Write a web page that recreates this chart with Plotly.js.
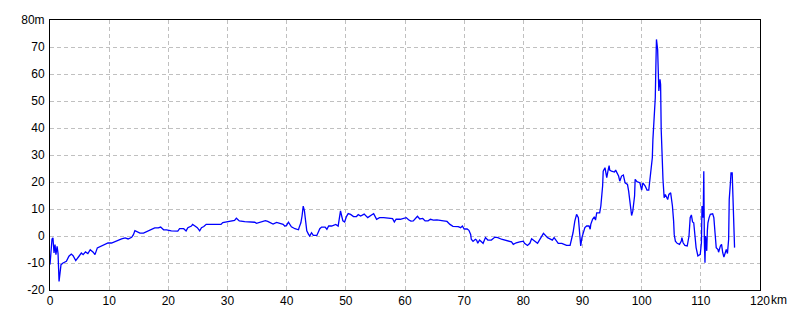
<!DOCTYPE html>
<html>
<head>
<meta charset="utf-8">
<script src="https://cdn.plot.ly/plotly-3.0.1.min.js"></script>
<style>html,body{margin:0;padding:0;background:#fff;}#chart{width:800px;height:320px;}</style>
</head>
<body>
<div id="chart"></div>
<script>
// Distance along route (km)
var distanceKm = [0,0.17,0.34,0.5,0.68,0.85,1.0,1.2,1.36,1.53,1.7,1.86,2.2,2.77,3.2,3.6,3.9,4.35,4.9,5.3,5.6,6.0,6.4,6.8,7.3,7.6,8.0,8.7,9.3,9.8,10.4,11.0,11.5,12.1,12.7,13.2,13.8,14.1,14.35,14.75,15.2,15.8,16.2,16.6,17.2,17.7,18.3,18.7,19.2,19.7,20.5,21.6,21.9,22.6,23.0,23.3,23.9,24.1,24.5,24.9,25.3,25.6,26.0,26.4,27.3,28.9,29.2,30.1,30.6,31.2,31.5,32.0,32.9,33.7,34.6,34.9,35.4,36.0,36.4,36.8,37.7,38.3,38.8,39.4,39.7,40.0,40.3,40.8,41.4,42.0,42.1,42.4,42.6,42.8,43.0,43.2,43.4,43.7,43.9,44.2,44.5,45.1,45.4,45.6,45.9,46.5,46.8,47.1,47.6,47.9,48.3,48.7,48.9,49.1,49.3,49.5,49.8,50.1,50.4,50.8,51.3,51.8,52.1,52.5,53.1,53.4,53.7,54.4,54.7,55.2,55.7,56.4,57.2,57.9,58.2,58.5,59.2,59.7,60.2,60.6,61.0,61.4,61.7,62.1,62.5,63.0,63.4,63.9,64.3,64.8,65.4,66.0,66.5,67.1,67.6,68.1,69.0,69.4,69.7,70.0,70.5,70.8,71.1,71.2,71.5,71.9,72.1,72.3,72.6,73.2,73.6,74.0,74.6,75.2,75.7,76.3,76.9,77.4,78.0,78.3,78.8,79.4,80.0,80.2,80.7,81.1,81.4,82.4,83.2,83.4,84.1,84.9,85.2,85.6,85.9,86.5,86.9,87.3,87.9,88.2,88.4,88.7,89.0,89.3,89.4,89.6,89.7,89.9,90.1,90.4,90.7,91.1,91.3,91.4,91.7,92.0,92.2,92.4,92.9,93.1,93.4,93.5,93.8,94.1,94.3,94.5,94.6,94.9,95.4,95.6,96.1,96.3,96.6,96.9,97.2,97.6,97.8,98.0,98.3,98.5,98.8,98.9,99.2,99.4,99.7,100.0,100.2,100.6,100.9,101.2,101.4,101.6,101.8,101.9,102.1,102.3,102.4,102.5,102.7,102.8,102.9,103.1,103.2,103.3,103.4,103.6,103.8,104.0,104.4,104.6,104.9,105.0,105.2,105.4,105.5,105.7,106.0,106.4,106.7,106.8,107.0,107.3,107.7,108.0,108.1,108.2,108.4,108.6,108.8,109.0,109.2,109.5,109.9,110.1,110.2,110.4,110.5,110.6,110.7,110.8,111.0,111.1,111.2,111.4,111.6,112.0,112.2,112.4,112.6,112.9,113.0,113.3,113.5,113.7,113.9,114.3,114.5,114.7,114.8,115.0,115.1,115.3,115.5,115.6,115.7];

// Elevation (m)
var elevationM = [-10.6,-4.4,-1.1,-0.7,-6.3,-3.2,-6.9,-3.8,-6.5,-16.8,-14.3,-10.6,-10,-9.4,-7.5,-6.7,-7.3,-9.1,-7.5,-6.3,-6.9,-5.9,-6.5,-5.1,-6,-6.9,-4.4,-3.8,-3.2,-2.6,-2.6,-2,-1.6,-1.1,-0.7,-1.1,-0.5,0.5,2,1.7,1.1,1.1,1.5,1.7,2.6,3,3,3.3,2.3,2.3,1.9,1.8,2.7,2.7,1.9,3.1,3.7,4.3,3.7,3.1,1.9,3.1,3.5,4.3,4.3,4.3,5,5.3,5.4,5.8,6.6,5.6,5.3,5.3,5.1,4.7,5.1,5.3,5.7,5.4,4.4,5,4.8,4.3,3.6,4,5.1,3.4,2.7,2.3,3.1,4.9,7.4,11.1,9.3,4.9,1.9,0.6,0,1.2,0.2,0.2,2.2,2.7,3.3,3.3,2.5,3.7,3.7,4,4.3,3.7,6.2,9.3,7.4,5.6,5.2,7.2,8.3,8,7.2,7.2,7.9,7.4,8.1,7.4,6.8,7.9,8.3,6.2,6.8,6.8,6.7,6.4,5.2,6.2,6.2,6.5,6.8,6,5.5,5.6,6.4,7.3,6.3,6.5,5.6,5.6,6.2,5.9,6,5.9,5.6,5.4,4.3,3.6,3.5,3.1,3.7,2.6,2.6,2.1,0.6,-1.2,-2,-1.2,-1.5,-2.7,-1.5,-2.7,-0.6,-1.5,-1.5,-0.4,-0.6,-1.2,-1.5,-1.9,-2.2,-3.1,-2.5,-2.2,-1.9,-2.7,-3.5,-2.7,-1,-2.7,0,1,-0.6,-1.5,-0.6,-1.9,-2.7,-2.7,-3.1,-3.5,-3.5,-1.2,1.2,5.5,8,6.8,3.1,-1.9,-3.7,-0.6,1.2,3.1,3.7,3.7,2.5,4.3,6.2,7.1,5.9,8.6,8.6,11.1,18.5,24,25.3,21.6,24,26.1,24.4,24,23.7,24.4,22.2,20.3,22.2,22.6,19.7,19.1,16.6,12.9,7.6,9.2,14.8,21,20.1,20,19.7,17,19.7,18.5,17,17,20.5,24,29,35.8,43.8,51.2,62.9,72.8,69.1,60.5,53.7,58,56.1,39.5,29.6,21,14.2,15.4,13.5,15.4,16,14.8,11.1,5.5,0.6,-1.9,-2.7,-3.1,-1.9,-0.6,-2.5,-3.5,-3.7,0,4.9,6.8,7.8,5.2,4.9,0,-4.3,-7.4,-6.8,-2.5,11.1,6.8,24,-2.5,-9.9,0,-5.5,1.9,4.9,6.8,8,8.2,6.8,1.2,-4.3,-5,-6,-3.7,-3.1,-6.2,-7.8,-5,-6.5,-1.2,13.5,19.7,23.4,23.4,12.3,1.9,-4.3];

// Tick labels
var xTickVals = [0,10,20,30,40,50,60,70,80,90,100,110,120];
var xTickText = ["0","10","20","30","40","50","60","70","80","90","100","110","120"];
var yTickVals = [-20,-10,0,10,20,30,40,50,60,70,80];
var yTickText = ["-20","-10","0","10","20","30","40","50","60","70","80m"];

var fontFam = "Liberation Sans, Arial, sans-serif";

var trace = {
  x: distanceKm,
  y: elevationM,
  type: "scatter",
  mode: "lines",
  line: {color: "#0000ff", width: 1.3},
  hoverinfo: "skip"
};

var axisCommon = {
  showline: true,
  mirror: true,
  linecolor: "#000000",
  linewidth: 1,
  showgrid: true,
  gridcolor: "#c0c0c0",
  griddash: "4px,3px",
  gridwidth: 1,
  zeroline: false,
  ticks: "",
  tickfont: {family: fontFam, size: 12, color: "#000000"},
  fixedrange: true
};

var layout = {
  width: 800,
  height: 320,
  margin: {l: 50, r: 40, t: 20, b: 30, pad: 0},
  paper_bgcolor: "#ffffff",
  plot_bgcolor: "#ffffff",
  showlegend: false,
  xaxis: Object.assign({}, axisCommon, {
    range: [0, 120],
    tickmode: "array",
    tickvals: xTickVals,
    ticktext: xTickText
  }),
  yaxis: Object.assign({}, axisCommon, {
    range: [-20, 80],
    tickmode: "array",
    tickvals: yTickVals,
    ticktext: yTickText,
    ticklabelstandoff: 2
  }),
  annotations: [{
    xref: "paper", yref: "paper",
    x: 1, y: 0,
    xanchor: "left", yanchor: "top",
    xshift: 9, yshift: -1,
    text: "km",
    showarrow: false,
    font: {family: fontFam, size: 12, color: "#000000"}
  }]
};

Plotly.newPlot("chart", [trace], layout, {displayModeBar: false, staticPlot: true});
</script>
</body>
</html>
